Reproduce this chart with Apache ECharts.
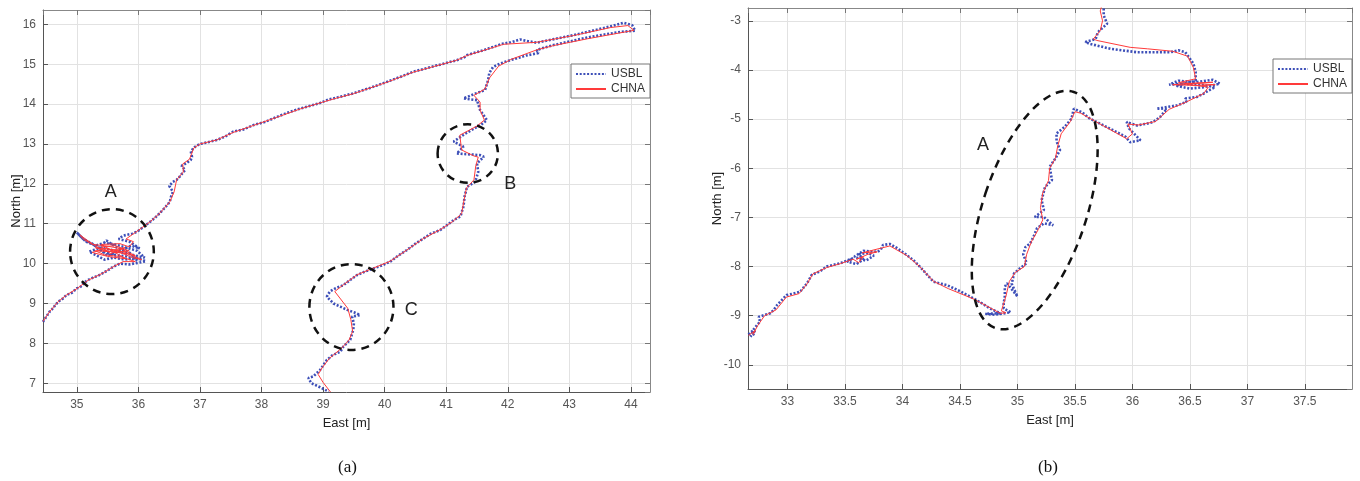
<!DOCTYPE html>
<html>
<head>
<meta charset="utf-8">
<script src="https://cdn.jsdelivr.net/npm/echarts@6/dist/echarts.min.js"></script>
<style>
html,body{margin:0;padding:0;background:#fff;}
#chart{width:1360px;height:481px;}
</style>
</head>
<body>
<div id="chart"></div>
<script>
// ---------- DATA ----------
const seriesNames = ['USBL', 'CHNA'];
const captions = ['(a)', '(b)'];
const xName = 'East [m]';
const yName = 'North [m]';

// panel (a) ranges
const aEast = [34.45, 44.31];
const aNorth = [6.78, 16.36];
// panel (b) ranges
const bEast = [32.656, 37.91];
const bNorth = [-10.49, -2.74];

// panel (a) USBL track [east, north]
const aUsbl = [
 [34.45,8.54],[34.50,8.66],[34.56,8.80],[34.60,8.86],[34.66,8.98],[34.70,9.05],[34.77,9.12],[34.83,9.21],[34.92,9.27],[35.00,9.38],[35.05,9.40],[35.12,9.52],[35.18,9.59],[35.28,9.66],[35.35,9.70],[35.42,9.76],[35.50,9.83],[35.59,9.92],
 [35.70,10.00],[35.85,9.98],[36.00,10.02],[36.12,10.06],[35.95,10.15],[35.78,10.10],[35.60,10.15],[35.45,10.10],[35.30,10.22],[35.20,10.30],[35.38,10.40],[35.55,10.35],[35.72,10.28],[35.90,10.22],[36.10,10.15],[35.98,10.32],[35.80,10.40],[35.62,10.48],[35.45,10.52],[35.30,10.45],[35.15,10.55],[35.05,10.70],[35.00,10.78],[35.10,10.62],[35.25,10.50],[35.42,10.30],[35.60,10.22],[35.80,10.18],[35.98,10.08],[35.85,10.28],[35.65,10.40],[35.48,10.58],[35.35,10.38],[35.50,10.20],[35.70,10.32],[35.88,10.45],[36.02,10.38],[35.85,10.55],[35.68,10.62],[35.75,10.70],[35.90,10.75],[35.98,10.80],
 [36.08,10.92],[36.19,11.05],[36.27,11.15],[36.35,11.27],[36.44,11.42],[36.51,11.55],[36.53,11.68],[36.56,11.80],[36.50,11.95],[36.56,12.05],[36.62,12.10],[36.67,12.18],[36.72,12.28],[36.76,12.35],[36.70,12.45],[36.78,12.52],[36.85,12.60],[36.87,12.68],[36.85,12.82],[36.92,12.93],[37.00,13.00],[37.12,13.04],[37.27,13.10],[37.40,13.18],[37.54,13.31],[37.70,13.36],[37.86,13.47],[38.05,13.55],[38.25,13.68],[38.45,13.80],[38.63,13.89],[38.80,13.96],[38.95,14.03],[39.10,14.12],[39.24,14.17],[39.49,14.27],[39.75,14.40],[40.04,14.56],[40.25,14.68],[40.46,14.81],[40.80,14.95],[41.17,15.10],[41.30,15.18],[41.34,15.23],[41.60,15.35],[41.93,15.52],[42.05,15.55],[42.20,15.62],[42.32,15.58],[42.47,15.54],[42.75,15.63],[43.07,15.73],[43.40,15.85],[43.67,15.95],[43.88,16.04],[44.02,15.98],[44.07,15.84],
 [43.83,15.81],[43.55,15.74],[43.29,15.67],[43.00,15.57],[42.74,15.48],[42.55,15.40],[42.47,15.35],[42.50,15.28],[42.30,15.22],[42.04,15.10],[41.88,15.02],[41.76,14.93],[41.70,14.78],[41.68,14.60],[41.63,14.35],[41.45,14.25],[41.28,14.14],[41.50,14.10],[41.55,13.85],[41.66,13.60],[41.58,13.50],[41.50,13.43],[41.30,13.25],[41.12,13.06],[41.28,12.93],[41.17,12.76],[41.38,12.74],[41.55,12.72],[41.61,12.68],[41.50,12.51],[41.52,12.30],[41.47,12.05],[41.34,11.93],[41.30,11.70],[41.28,11.43],[41.23,11.18],[41.12,11.09],[41.00,10.95],[40.90,10.84],[40.75,10.75],[40.63,10.63],[40.50,10.50],[40.36,10.34],[40.22,10.20],[40.09,10.05],[39.95,9.95],[39.82,9.88],[39.68,9.80],[39.55,9.71],[39.45,9.60],[39.33,9.46],[39.20,9.38],[39.11,9.30],[39.06,9.17],[39.17,9.00],[39.28,8.92],[39.39,8.84],[39.50,8.78],[39.60,8.71],[39.47,8.67],[39.50,8.50],[39.49,8.34],[39.44,8.09],[39.33,7.92],[39.28,7.79],[39.15,7.70],[39.06,7.58],[38.95,7.33],[38.84,7.17],[38.76,7.13],[38.81,7.00],[38.95,6.90],[39.09,6.79]
];

// panel (a) CHNA track [east, north]
const aChna = [
 [34.45,8.55],[34.56,8.80],[34.70,9.05],[34.83,9.21],[35.00,9.37],[35.18,9.58],[35.42,9.76],[35.59,9.92],
 [35.75,10.05],[35.95,10.05],[35.70,10.18],[35.45,10.22],[35.30,10.32],[35.55,10.30],[35.80,10.25],[35.95,10.20],[35.70,10.38],[35.45,10.45],[35.25,10.48],[35.10,10.62],[35.05,10.72],[35.20,10.55],[35.40,10.35],[35.62,10.28],[35.85,10.32],[35.62,10.45],[35.40,10.42],[35.55,10.25],[35.78,10.40],
 [35.50,10.30],[35.30,10.40],[35.60,10.35],[35.90,10.15],[36.05,10.10],[35.75,10.30],[35.45,10.38],[35.25,10.28],[35.50,10.18],[35.80,10.12],[35.65,10.25],[35.40,10.48],[35.70,10.50],[35.85,10.42],
 [35.92,10.55],[35.80,10.62],[35.95,10.78],
 [36.19,11.05],[36.35,11.27],[36.51,11.55],[36.58,11.80],[36.62,12.10],[36.73,12.30],[36.72,12.50],[36.83,12.62],[36.90,12.90],[37.00,13.00],[37.27,13.10],[37.54,13.29],[37.86,13.46],[38.25,13.67],[38.63,13.88],[38.95,14.03],[39.24,14.16],[39.49,14.26],[40.04,14.55],[40.46,14.80],[41.17,15.10],[41.34,15.22],[41.93,15.50],[42.47,15.55],[43.07,15.72],[43.67,15.92],[43.95,15.97],[44.05,15.85],
 [43.80,15.78],[43.30,15.64],[42.75,15.47],[42.47,15.36],[42.05,15.12],[41.85,14.95],[41.70,14.65],[41.63,14.38],[41.45,14.22],[41.55,14.05],[41.55,13.85],[41.62,13.60],
 [41.50,13.45],[41.22,13.22],[41.25,12.85],[41.45,12.70],[41.52,12.67],[41.48,12.45],[41.45,12.10],[41.33,11.90],[41.29,11.60],[41.25,11.25],[41.10,11.05],[40.90,10.85],[40.63,10.63],[40.36,10.34],[40.09,10.06],[39.82,9.89],[39.55,9.72],[39.33,9.47],[39.19,9.30],[39.40,8.88],[39.45,8.60],[39.48,8.30],[39.42,8.08],[39.30,7.88],[39.10,7.62],[38.98,7.38],[38.92,7.22],[39.00,7.02],[39.12,6.78]
];

// panel (b) USBL track [east, north]
const bUsbl = [
 [32.66,-9.38],[32.70,-9.30],[32.68,-9.42],[32.72,-9.35],[32.70,-9.29],[32.76,-9.12],[32.75,-9.02],[32.85,-8.95],[32.88,-8.88],[32.91,-8.78],[32.95,-8.68],[32.99,-8.58],[33.05,-8.55],[33.11,-8.51],[33.17,-8.34],[33.21,-8.17],[33.28,-8.10],[33.34,-8.00],[33.46,-7.93],[33.57,-7.83],
 [33.52,-7.90],[33.60,-7.95],[33.66,-7.85],[33.62,-7.75],[33.70,-7.72],[33.75,-7.78],[33.68,-7.88],[33.58,-7.80],[33.66,-7.68],[33.78,-7.70],[33.81,-7.66],[33.83,-7.56],[33.89,-7.54],
 [33.95,-7.62],[34.04,-7.77],[34.10,-7.88],[34.15,-8.00],[34.22,-8.18],[34.27,-8.31],[34.39,-8.38],[34.50,-8.50],[34.62,-8.65],[34.70,-8.76],[34.76,-8.85],[34.85,-8.95],[34.72,-8.96],[34.80,-8.98],[34.94,-8.93],[34.88,-8.85],[34.88,-8.75],[34.89,-8.60],[34.89,-8.41],[34.91,-8.34],[35.00,-8.61],[34.95,-8.35],[34.97,-8.14],[35.02,-8.04],[35.08,-7.93],[35.05,-7.75],[35.07,-7.60],[35.11,-7.53],[35.14,-7.39],[35.17,-7.22],[35.23,-7.12],[35.31,-7.16],[35.23,-6.99],[35.15,-6.99],[35.23,-6.85],[35.21,-6.65],[35.24,-6.38],[35.30,-6.24],[35.28,-5.97],[35.33,-5.80],[35.37,-5.63],[35.34,-5.45],[35.34,-5.29],[35.41,-5.16],[35.47,-4.99],[35.49,-4.79],[35.56,-4.86],[35.63,-4.99],[35.75,-5.13],[35.86,-5.26],[35.94,-5.36],[35.98,-5.47],[36.07,-5.43],[35.97,-5.19],[35.95,-5.06],[36.04,-5.13],[36.13,-5.09],[36.18,-5.06],[36.24,-4.96],[36.30,-4.79],[36.21,-4.79],[36.39,-4.72],[36.47,-4.65],[36.46,-4.58],[36.56,-4.55],[36.62,-4.48],[36.66,-4.42],
 [36.72,-4.35],[36.60,-4.30],[36.45,-4.28],[36.32,-4.30],[36.40,-4.22],[36.55,-4.25],[36.70,-4.20],[36.76,-4.28],[36.62,-4.35],[36.50,-4.38],[36.38,-4.32],[36.55,-4.22],
 [36.55,-4.18],[36.55,-4.04],[36.53,-3.87],[36.50,-3.77],[36.46,-3.64],[36.40,-3.60],[36.33,-3.64],[36.04,-3.64],[35.81,-3.57],[35.63,-3.47],[35.59,-3.43],[35.68,-3.37],[35.70,-3.23],[35.78,-3.06],[35.75,-2.89],[35.75,-2.72]
];

// panel (b) CHNA track [east, north]
const bChna = [
 [32.66,-9.40],[32.72,-9.30],[32.70,-9.38],[32.74,-9.20],[32.80,-9.00],[32.90,-8.88],[32.99,-8.62],[33.10,-8.55],[33.17,-8.35],[33.22,-8.15],[33.34,-8.02],[33.46,-7.94],[33.57,-7.85],[33.62,-7.92],[33.66,-7.80],[33.60,-7.85],[33.70,-7.75],[33.78,-7.70],[33.65,-7.72],[33.82,-7.62],[33.89,-7.58],[34.04,-7.78],[34.15,-8.00],[34.27,-8.30],[34.40,-8.45],[34.62,-8.66],[34.85,-8.95],[34.90,-8.94],[34.86,-8.90],[34.90,-8.60],[34.93,-8.30],[34.98,-8.12],[35.06,-8.00],[35.08,-7.75],[35.12,-7.50],[35.18,-7.25],[35.22,-7.05],[35.20,-6.80],[35.22,-6.50],[35.27,-6.25],[35.28,-6.00],[35.33,-5.80],[35.35,-5.55],[35.38,-5.30],[35.46,-5.05],[35.50,-4.85],[35.55,-4.88],[35.95,-5.40],[36.00,-5.30],[35.96,-5.10],[36.05,-5.12],[36.20,-5.05],[36.32,-4.80],[36.47,-4.65],[36.62,-4.48],[36.66,-4.35],[36.45,-4.28],[36.70,-4.25],[36.35,-4.30],[36.60,-4.32],[36.72,-4.30],[36.40,-4.26],[36.55,-4.18],[36.53,-3.95],[36.48,-3.72],[36.35,-3.62],[36.13,-3.57],[35.98,-3.54],[35.69,-3.40],[35.66,-3.37],[35.72,-3.20],[35.74,-3.00],[35.72,-2.80],[35.73,-2.72]
];

// dashed annotation ellipses: [centerEast, centerNorth, radiusEast, radiusNorth, rotationDeg]
const aRings = [[35.57, 10.30, 0.68, 1.065, 0], [41.35, 12.76, 0.49, 0.735, 0], [39.46, 8.91, 0.683, 1.078, 0]];
const bRings = [[35.15, -6.85, 0.452, 2.53, -18.3]];
// annotation letters: [east, north, text]
const aMarks = [[35.55, 11.79, 'A'], [42.04, 11.99, 'B'], [40.43, 8.84, 'C']];
const bMarks = [[34.70, -5.53, 'A']];

// ---------- CHART ----------
const FONT = 'Liberation Sans, Arial, sans-serif';
const USBL_COLOR = '#3346b4';
const CHNA_COLOR = '#ff3a3a';
const chart = echarts.init(document.getElementById('chart'), null, {renderer: 'canvas'});

const grids = [
  {left: 43, top: 10, width: 607, height: 382},
  {left: 748, top: 8, width: 604, height: 381}
];

function mainX(g, r, split) {
  return {
    type: 'value', gridIndex: g, min: r[0], max: r[1], splitNumber: split, position: 'bottom',
    name: xName, nameLocation: 'middle', nameGap: 25, nameMoveOverlap: false,
    nameTextStyle: {fontFamily: FONT, fontSize: 13, color: '#222'},
    axisLine: {show: true, onZero: false, lineStyle: {color: '#555', width: 1}},
    axisTick: {show: true, inside: true, length: 5, lineStyle: {color: '#555'}},
    axisLabel: {show: true, showMinLabel: false, showMaxLabel: false, margin: 7, fontFamily: FONT, fontSize: 12, color: '#555'},
    splitLine: {show: true, lineStyle: {color: '#e2e2e2', width: 1}}
  };
}
function mainY(g, r, split, gap) {
  return {
    type: 'value', gridIndex: g, min: r[0], max: r[1], splitNumber: split, position: 'left',
    name: yName, nameLocation: 'middle', nameGap: gap, nameRotate: 90, nameMoveOverlap: false,
    nameTextStyle: {fontFamily: FONT, fontSize: 13, color: '#222'},
    axisLine: {show: true, onZero: false, lineStyle: {color: '#555', width: 1}},
    axisTick: {show: true, inside: true, length: 5, lineStyle: {color: '#555'}},
    axisLabel: {show: true, showMinLabel: false, showMaxLabel: false, margin: 7, fontFamily: FONT, fontSize: 12, color: '#555'},
    splitLine: {show: true, lineStyle: {color: '#e2e2e2', width: 1}}
  };
}
function mirror(g, r, split, pos) {
  return {
    type: 'value', gridIndex: g, min: r[0], max: r[1], splitNumber: split, position: pos,
    axisLine: {show: true, onZero: false, lineStyle: {color: '#888', width: 1}},
    axisTick: {show: true, inside: true, length: 5, lineStyle: {color: '#777'}},
    axisLabel: {show: false}, splitLine: {show: false}
  };
}

function lineSeries(name, data, xi, yi) {
  const usbl = name === 'USBL';
  const color = usbl ? USBL_COLOR : CHNA_COLOR;
  return {
    name: name, type: 'line', xAxisIndex: xi, yAxisIndex: yi, data: data,
    symbol: 'none', showSymbol: false, animation: false, silent: true,
    z: usbl ? 2 : 3,
    color: color,
    itemStyle: {color: color},
    lineStyle: usbl
      ? {color: color, width: 2.6, type: [2, 1.7], cap: 'butt', opacity: 0.95}
      : {color: color, width: 1}
  };
}

function ringSeries(data, xi, yi) {
  return {
    type: 'custom', xAxisIndex: xi, yAxisIndex: yi, data: data, silent: true, z: 5,
    clip: false,
    renderItem: function (params, api) {
      const c = api.coord([api.value(0), api.value(1)]);
      const s = api.size([api.value(2), api.value(3)]);
      return {
        type: 'ellipse', x: c[0], y: c[1], rotation: api.value(4) * Math.PI / 180,
        shape: {cx: 0, cy: 0, rx: s[0], ry: s[1]},
        style: {fill: 'none', stroke: '#111', lineWidth: 2.5, lineDash: [8, 6]}
      };
    }
  };
}
function markSeries(data, xi, yi) {
  return {
    type: 'custom', xAxisIndex: xi, yAxisIndex: yi, data: data, silent: true, z: 6,
    renderItem: function (params, api) {
      const c = api.coord([api.value(0), api.value(1)]);
      return {
        type: 'text', x: c[0], y: c[1],
        style: {text: data[params.dataIndex][2], font: '18px ' + FONT, fill: '#222', align: 'center', verticalAlign: 'middle'}
      };
    }
  };
}

const legendBase = {
  data: seriesNames, orient: 'vertical', itemWidth: 30, itemHeight: 8, itemGap: 3,
  padding: [4, 5, 3, 4], borderColor: '#777', borderWidth: 1, backgroundColor: '#fff', borderRadius: 0,
  selectedMode: false, textStyle: {fontFamily: FONT, fontSize: 12, color: '#333'},
  itemStyle: {opacity: 0}
};

chart.setOption({
  animation: false,
  backgroundColor: '#fff',
  title: [
    {text: captions[0], left: 333, top: 454, textStyle: {fontFamily: 'Liberation Serif, serif', fontSize: 17, fontWeight: 'normal', color: '#111'}},
    {text: captions[1], left: 1033, top: 454, textStyle: {fontFamily: 'Liberation Serif, serif', fontSize: 17, fontWeight: 'normal', color: '#111'}}
  ],
  legend: [
    Object.assign({}, legendBase, {left: 571, top: 64}),
    Object.assign({}, legendBase, {left: 1273, top: 59})
  ],
  grid: grids,
  xAxis: [mainX(0, aEast, 10), mirror(0, aEast, 10, 'top'), mainX(1, bEast, 10), mirror(1, bEast, 10, 'top')],
  yAxis: [mainY(0, aNorth, 10, 20), mirror(0, aNorth, 10, 'right'), mainY(1, bNorth, 8, 24), mirror(1, bNorth, 8, 'right')],
  series: [
    lineSeries('USBL', aUsbl, 0, 0),
    lineSeries('CHNA', aChna, 0, 0),
    lineSeries('USBL', bUsbl, 2, 2),
    lineSeries('CHNA', bChna, 2, 2),
    ringSeries(aRings, 0, 0),
    ringSeries(bRings, 2, 2),
    markSeries(aMarks, 0, 0),
    markSeries(bMarks, 2, 2)
  ]
});
</script>
</body>
</html>
